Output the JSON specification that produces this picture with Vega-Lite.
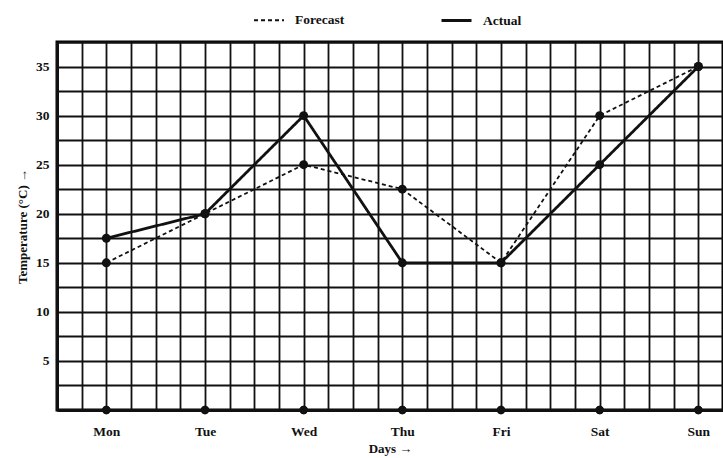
{
  "$schema": "https://vega.github.io/schema/vega-lite/v6.json",
  "width": 666,
  "height": 368,
  "autosize": {"type": "none"},
  "padding": {"left": 57, "top": 42, "right": 0, "bottom": 48},
  "background": "white",
  "config": {
    "view": {"stroke": "black", "strokeWidth": 3},
    "font": "Liberation Serif",
    "axis": {
      "labelFont": "Liberation Serif",
      "labelFontWeight": "bold",
      "labelFontSize": 13.5,
      "labelColor": "#111",
      "titleFont": "Liberation Serif",
      "titleFontWeight": "bold",
      "titleFontSize": 13,
      "titleColor": "#111",
      "gridColor": "#111",
      "gridOpacity": 1,
      "gridWidth": 1.8,
      "domainColor": "#111",
      "domainWidth": 3,
      "ticks": false
    },
    "legend": {
      "labelFont": "Liberation Serif",
      "labelFontWeight": "bold",
      "labelFontSize": 13.5,
      "labelColor": "#111"
    }
  },
  "data": {
    "values": [
      {"weekday": 1, "day": "Mon", "series": "Forecast", "temp": 15},
      {"weekday": 2, "day": "Tue", "series": "Forecast", "temp": 20},
      {"weekday": 3, "day": "Wed", "series": "Forecast", "temp": 25},
      {"weekday": 4, "day": "Thu", "series": "Forecast", "temp": 22.5},
      {"weekday": 5, "day": "Fri", "series": "Forecast", "temp": 15},
      {"weekday": 6, "day": "Sat", "series": "Forecast", "temp": 30},
      {"weekday": 7, "day": "Sun", "series": "Forecast", "temp": 35},
      {"weekday": 1, "day": "Mon", "series": "Actual", "temp": 17.5},
      {"weekday": 2, "day": "Tue", "series": "Actual", "temp": 20},
      {"weekday": 3, "day": "Wed", "series": "Actual", "temp": 30},
      {"weekday": 4, "day": "Thu", "series": "Actual", "temp": 15},
      {"weekday": 5, "day": "Fri", "series": "Actual", "temp": 15},
      {"weekday": 6, "day": "Sat", "series": "Actual", "temp": 25},
      {"weekday": 7, "day": "Sun", "series": "Actual", "temp": 35}
    ]
  },
  "encoding": {
    "x": {
      "field": "weekday",
      "type": "quantitative",
      "scale": {"domain": [0.5, 7.25], "nice": false, "zero": false},
      "axis": {
        "title": "Days →",
        "values": [0.5, 0.75, 1, 1.25, 1.5, 1.75, 2, 2.25, 2.5, 2.75, 3, 3.25, 3.5, 3.75, 4, 4.25, 4.5, 4.75, 5, 5.25, 5.5, 5.75, 6, 6.25, 6.5, 6.75, 7, 7.25],
        "labelExpr": "datum.value == 1 ? 'Mon' : datum.value == 2 ? 'Tue' : datum.value == 3 ? 'Wed' : datum.value == 4 ? 'Thu' : datum.value == 5 ? 'Fri' : datum.value == 6 ? 'Sat' : datum.value == 7 ? 'Sun' : ''",
        "labelPadding": 14,
        "titlePadding": 5,
        "grid": true
      }
    },
    "y": {
      "field": "temp",
      "type": "quantitative",
      "scale": {"domain": [0, 37.5], "nice": false, "zero": true},
      "axis": {
        "title": "Temperature (°C) →",
        "values": [0, 2.5, 5, 7.5, 10, 12.5, 15, 17.5, 20, 22.5, 25, 27.5, 30, 32.5, 35, 37.5],
        "labelExpr": "datum.value > 0 && datum.value % 5 == 0 ? datum.label : ''",
        "labelPadding": 8,
        "titlePadding": 6,
        "grid": true
      }
    }
  },
  "layer": [
    {
      "mark": {"type": "line", "color": "#111"},
      "encoding": {
        "strokeDash": {
          "field": "series",
          "type": "nominal",
          "scale": {"domain": ["Forecast", "Actual"], "range": [[4, 3], [1, 0]]},
          "legend": {
            "title": null,
            "orient": "none",
            "direction": "horizontal",
            "legendX": 196,
            "legendY": -38,
            "symbolType": "stroke",
            "symbolSize": 900,
            "symbolStrokeColor": "#111",
            "columnPadding": 90,
            "labelOffset": 10
          }
        },
        "strokeWidth": {
          "field": "series",
          "type": "nominal",
          "scale": {"domain": ["Forecast", "Actual"], "range": [1.8, 2.8]},
          "legend": null
        }
      }
    },
    {
      "mark": {"type": "point", "filled": true, "color": "#111", "size": 80, "opacity": 1},
      "encoding": {
        "detail": {"field": "series", "type": "nominal"}
      }
    },
    {
      "mark": {"type": "point", "filled": true, "color": "#111", "size": 70, "opacity": 1, "clip": false},
      "encoding": {
        "y": {"datum": 0}
      }
    }
  ]
}
